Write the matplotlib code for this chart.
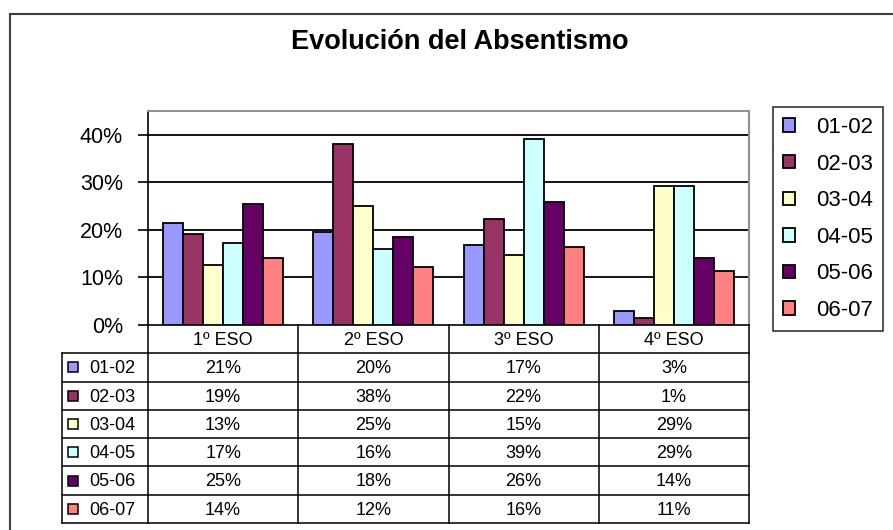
import matplotlib
matplotlib.use('Agg')
import matplotlib.pyplot as plt
from matplotlib.patches import Rectangle

plt.rcParams['font.family'] = ['Liberation Sans', 'DejaVu Sans']

# ---- data ----
title = 'Evolución del Absentismo'
categories = ['1º ESO', '2º ESO', '3º ESO', '4º ESO']
series_names = ['01-02', '02-03', '03-04', '04-05', '05-06', '06-07']
v_01_02 = [21.4, 19.6, 16.8, 3.0]
v_02_03 = [19.2, 38.1, 22.3, 1.4]
v_03_04 = [12.6, 25.1, 14.8, 29.3]
v_04_05 = [17.2, 16.0, 39.2, 29.3]
v_05_06 = [25.4, 18.4, 25.8, 14.0]
v_06_07 = [14.0, 12.1, 16.4, 11.3]
series = [v_01_02, v_02_03, v_03_04, v_04_05, v_05_06, v_06_07]
colors = ['#9999FF', '#993366', '#FFFFCC', '#CCFFFF', '#660066', '#FF8080']
yticks = [0, 10, 20, 30, 40]

# ---- layout ----
W, H = 893, 530
fig = plt.figure(figsize=(W / 100, H / 100), dpi=100)


def fr(x0, y0, x1, y1):
    return [x0 / W, 1 - y1 / H, (x1 - x0) / W, (y1 - y0) / H]


# outer chart border
fig.add_artist(Rectangle((10 / W, -0.1), 1.2, 1 - 14 / H + 0.1, transform=fig.transFigure,
                         fill=False, edgecolor='#404040', lw=1.5))

fig.text(460 / W, 1 - 49 / H, title, ha='center', va='baseline',
         fontsize=19.5, fontweight='bold')

ax = fig.add_axes(fr(148, 111, 749, 325))
n = len(series)
bw = 0.1333
handles = []
for i, (name, vals) in enumerate(zip(series_names, series)):
    xs = [c + (i - (n - 1) / 2) * bw for c in range(len(categories))]
    b = ax.bar(xs, vals, width=bw, color=colors[i], edgecolor='black',
               linewidth=1.3, zorder=3, label=name)
    handles.append(b)

ax.set_xlim(-0.5, len(categories) - 0.5)
ax.set_ylim(0, 45)
ax.set_yticks(yticks)
ax.set_yticklabels([f'{t}%' for t in yticks])
ax.set_xticks([])
for t in yticks[1:]:
    ax.axhline(t, color='black', lw=1.3, zorder=1)
ax.spines['left'].set_color('black')
ax.spines['left'].set_linewidth(1.2)
ax.spines['bottom'].set_color('black')
ax.spines['bottom'].set_linewidth(1.2)
for s in ['top', 'right']:
    ax.spines[s].set_color('#909090')
    ax.spines[s].set_linewidth(1.5)
ax.tick_params(axis='y', length=7, width=1.2, pad=11, labelsize=15.5, direction='out')

leg = fig.legend(handles=handles, labels=series_names, loc='upper left',
                 bbox_to_anchor=(773 / W, 1 - 107 / H), borderaxespad=0,
                 fontsize=16, frameon=True, fancybox=False, shadow=False,
                 handlelength=0.55, handleheight=0.55, handletextpad=0.95,
                 labelspacing=0.70, borderpad=0.45)
leg.get_frame().set_edgecolor('black')
leg.get_frame().set_linewidth(1.2)

# ---- data table ----
px = 1 / 150.25  # one pixel in category units
label_w = 86 * px
tax = fig.add_axes(fr(62, 325, 749, 523))
xmin = -0.5 - label_w
xmax = len(categories) - 0.5
nrows = len(series) + 1
tax.set_xlim(xmin, xmax)
tax.set_ylim(nrows, 0)
tax.axis('off')

lc = 'black'
for k in range(len(categories) + 1):
    tax.plot([-0.5 + k, -0.5 + k], [0, nrows], color=lc, lw=1.1, clip_on=False)
tax.plot([xmin, xmin], [1, nrows], color=lc, lw=1.1, clip_on=False)
for r in range(1, nrows + 1):
    tax.plot([xmin, xmax], [r, r], color=lc, lw=1.1, clip_on=False)

for c, cat in enumerate(categories):
    tax.text(c, 0.55, cat, ha='center', va='center', fontsize=13)
for r, (name, vals) in enumerate(zip(series_names, series)):
    y = r + 1.55
    tax.plot([xmin + 11 * px], [y - 0.05], marker='s', markersize=6.5,
             markerfacecolor=colors[r], markeredgecolor='black', markeredgewidth=1.1,
             clip_on=False)
    tax.text(xmin + 27 * px, y, name, ha='left', va='center', fontsize=13)
    for c, v in enumerate(vals):
        tax.text(c, y, f'{v:.0f}%', ha='center', va='center', fontsize=13)

fig.savefig('out.png', dpi=100)
